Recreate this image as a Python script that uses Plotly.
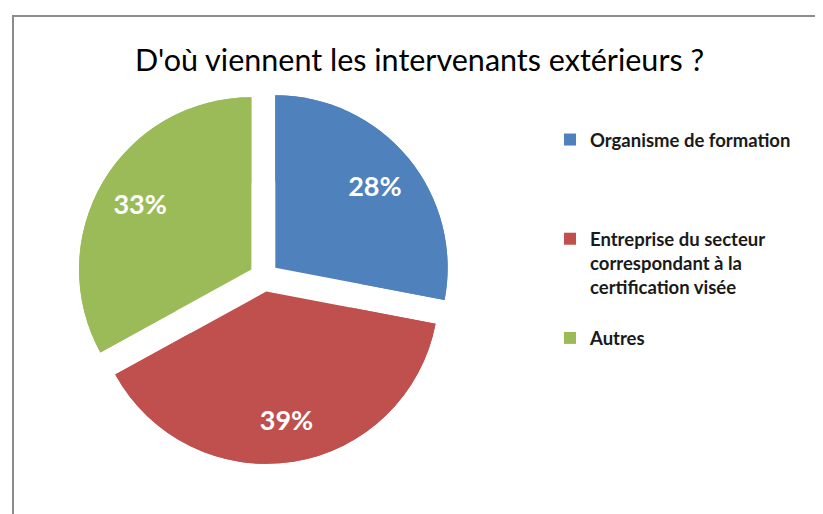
import plotly.graph_objects as go

W, H = 823, 514

title = "D'où viennent les intervenants extérieurs ?"
labels = [
    "Organisme de formation",
    "Entreprise du secteur<br>correspondant à la<br>certification visée",
    "Autres",
]
# trailing blank lines only pad the legend spacing
legend_pad = ["<br> <br> <br> ", "<br> ", ""]
values = [28, 39, 33]
colors = ["#4F81BD", "#C0504D", "#9BBB59"]

dom = dict(x=[69 / W, 443 / W], y=[1 - 457 / H, 1 - 81 / H])
pull = [0.085, 0.085, 0.085]

fig = go.Figure()
# full pie (fills the centre, carries the legend)
fig.add_trace(go.Pie(
    labels=[l + p for l, p in zip(labels, legend_pad)],
    values=values,
    marker=dict(colors=colors, line=dict(width=0)),
    sort=False, direction="clockwise", rotation=0,
    pull=pull, textinfo="none", domain=dom,
    hoverinfo="label+percent",
))
# same pie as a ring on top, so the percent labels sit further out
fig.add_trace(go.Pie(
    labels=[l + p for l, p in zip(labels, legend_pad)],
    values=values,
    marker=dict(colors=colors, line=dict(width=0)),
    sort=False, direction="clockwise", rotation=0,
    pull=pull, hole=0.5, domain=dom,
    texttemplate="<b>%{percent:.0%}</b>",
    textposition="inside",
    insidetextorientation="horizontal",
    textfont=dict(family="Lato", size=27, color="white"),
    showlegend=False, hoverinfo="skip",
))

fig.update_layout(
    width=W, height=H,
    margin=dict(l=0, r=0, t=0, b=0),
    paper_bgcolor="white",
    font=dict(family="Lato", color="#1a1a1a"),
    title=dict(text=title, x=0.5, xanchor="center", y=1 - 52 / H, yanchor="middle",
               font=dict(family="Lato", size=30.5, color="#000000")),
    legend=dict(x=542 / W, y=1 - 113 / H, xanchor="left", yanchor="top",
                valign="top", font=dict(family="Lato", size=18.5, weight="bold"),
                itemwidth=30),
    shapes=[dict(type="rect", xref="paper", yref="paper",
                 x0=5 / W, x1=1.02, y0=-0.02, y1=1 - 8 / H,
                 line=dict(color="#8c8c8c", width=2))],
)

fig.write_html("out.html")
